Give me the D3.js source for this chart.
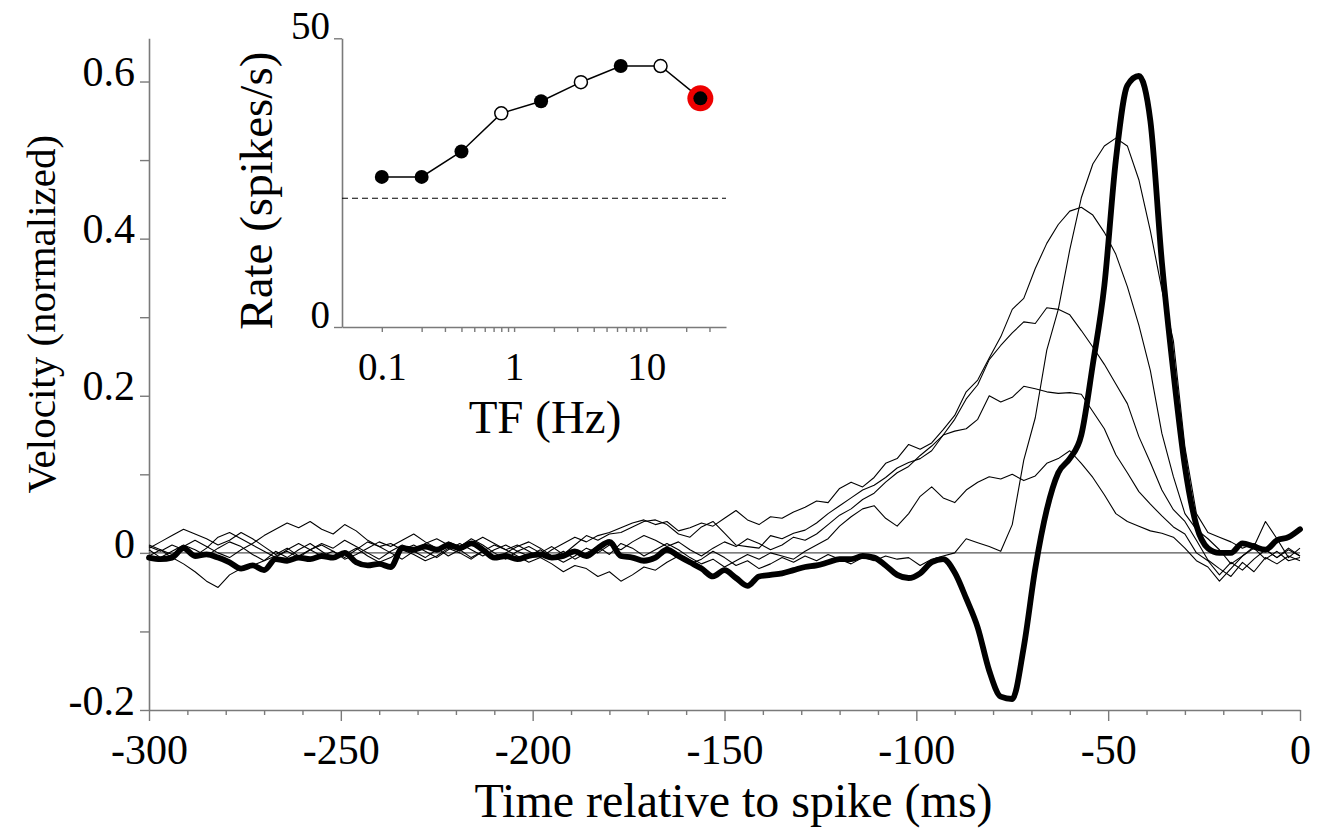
<!DOCTYPE html>
<html><head><meta charset="utf-8">
<script src="https://cdn.jsdelivr.net/npm/d3@7"></script>
<style>
body{margin:0;background:#fff;}
svg{display:block;font-family:"Liberation Serif","Times New Roman",serif;}
</style></head><body>
<svg id="chart" width="1328" height="835"></svg>
<script>
// ---------- main panel data ----------
const timeMs = [-300,-297,-294,-291,-288,-285,-282,-279,-276,-273,-270,-267,-264,-261,-258,-255,-252,-249,-246,-243,
-240,-237,-234,-231,-228,-225,-222,-219,-216,-213,-210,-207,-204,-201,-198,-195,-192,-189,-186,-183,
-180,-177,-174,-171,-168,-165,-162,-159,-156,-153,-150,-147,-144,-141,-138,-135,-132,-129,-126,-123,
-120,-117,-114,-111,-108,-105,-102,-99,-96,-93,-90,-87,-84,-81,-78,-75,-72,-69,-66,-63,
-60,-57,-54,-51,-48,-45,-42,-39,-36,-33,-30,-27,-24,-21,-18,-15,-12,-9,-6,-3,0];

const thickTrace = [-0.006,-0.008,-0.006,0.006,-0.004,-0.002,-0.006,-0.012,-0.020,-0.016,
-0.022,-0.008,-0.010,-0.006,-0.008,-0.004,-0.006,0.000,-0.012,-0.016,
-0.014,-0.018,0.006,0.004,0.008,0.004,0.010,0.006,0.012,0.004,
-0.006,-0.004,-0.008,-0.004,-0.002,-0.006,-0.004,0.002,-0.004,0.006,
0.014,-0.004,-0.006,-0.010,-0.006,0.004,-0.004,-0.012,-0.020,-0.030,
-0.022,-0.032,-0.042,-0.030,-0.028,-0.026,-0.022,-0.018,-0.016,-0.012,
-0.008,-0.008,-0.004,-0.006,-0.016,-0.028,-0.032,-0.026,-0.012,-0.008,
-0.025,-0.058,-0.095,-0.150,-0.183,-0.186,-0.120,-0.020,0.055,0.102,
0.120,0.150,0.240,0.340,0.500,0.595,0.607,0.550,0.370,0.230,
0.110,0.035,0.006,0.000,0.000,0.012,0.008,0.004,0.016,0.020,0.030];

const traceA = [0.004,-0.006,0.002,0.010,0.004,-0.004,0.006,0.014,0.008,-0.002,
-0.010,0.002,-0.006,0.004,0.012,0.002,-0.008,-0.002,0.006,-0.004,
-0.012,-0.006,0.004,-0.002,-0.010,-0.004,0.006,0.000,-0.008,0.002,
0.010,0.004,-0.004,-0.012,-0.006,-0.014,-0.024,-0.016,-0.020,-0.030,
-0.024,-0.036,-0.028,-0.018,-0.022,-0.012,-0.004,-0.014,-0.008,0.002,
-0.006,-0.016,-0.010,-0.020,-0.014,-0.006,-0.012,-0.004,-0.010,-0.002,
-0.008,-0.014,-0.006,-0.010,-0.004,-0.008,-0.006,-0.016,-0.008,-0.004,
0.000,0.018,0.013,0.008,0.002,0.036,0.118,0.172,0.258,0.310,
0.386,0.452,0.495,0.518,0.528,0.518,0.475,0.410,0.335,0.270,
0.135,0.050,0.026,0.020,0.014,0.006,0.012,0.004,-0.006,0.004,-0.004];

const traceB = [0.006,0.014,0.022,0.030,0.024,0.018,0.010,0.016,0.026,0.018,
0.008,-0.002,0.006,-0.004,0.004,0.012,0.006,0.016,0.008,0.000,
-0.008,0.002,0.010,0.004,0.012,0.018,0.010,0.002,0.012,0.020,
0.012,0.004,0.010,0.002,-0.006,0.004,0.012,0.020,0.014,0.022,
0.026,0.032,0.038,0.042,0.036,0.040,0.028,0.032,0.038,0.034,
0.044,0.054,0.042,0.036,0.046,0.044,0.052,0.058,0.066,0.064,
0.082,0.090,0.084,0.096,0.114,0.120,0.138,0.132,0.140,0.157,
0.175,0.205,0.220,0.248,0.275,0.310,0.324,0.362,0.394,0.418,
0.435,0.440,0.430,0.408,0.380,0.339,0.290,0.232,0.152,0.097,
0.050,0.030,0.018,0.004,-0.014,-0.004,0.006,-0.008,0.002,-0.010,-0.006];

const traceC = [-0.004,0.004,-0.002,0.008,0.016,0.008,0.000,-0.006,0.004,0.012,
0.022,0.030,0.038,0.032,0.040,0.030,0.024,0.036,0.028,0.016,
0.008,0.012,0.004,0.010,0.002,-0.006,0.004,0.012,0.004,-0.004,
0.004,0.010,0.002,0.008,0.000,0.008,-0.002,0.010,0.022,0.016,
0.024,0.026,0.033,0.040,0.042,0.036,0.024,0.020,0.033,0.040,
0.025,0.010,0.008,0.006,0.022,0.018,0.025,0.029,0.038,0.050,
0.060,0.070,0.080,0.086,0.096,0.108,0.115,0.120,0.130,0.150,
0.170,0.196,0.214,0.246,0.264,0.280,0.294,0.292,0.312,0.310,
0.303,0.283,0.262,0.240,0.215,0.190,0.148,0.115,0.080,0.055,
0.040,0.016,-0.009,-0.020,-0.030,-0.012,-0.024,-0.006,-0.014,-0.004,-0.010];

const traceD = [0.008,0.002,0.010,0.004,-0.004,0.006,0.020,0.026,0.018,0.010,
0.002,-0.006,0.004,0.012,0.004,-0.004,0.002,-0.008,-0.002,0.006,
0.014,0.008,0.016,0.024,0.014,0.006,-0.004,0.004,-0.006,0.002,
-0.008,0.000,0.008,0.014,0.006,-0.004,-0.012,-0.004,0.006,0.000,
0.010,0.004,0.014,0.022,0.016,0.008,0.014,0.004,-0.004,0.006,
0.014,0.008,0.018,0.012,0.004,0.010,0.020,0.016,0.024,0.036,
0.048,0.056,0.068,0.076,0.090,0.102,0.110,0.124,0.136,0.150,
0.155,0.158,0.170,0.200,0.192,0.198,0.212,0.209,0.205,0.203,
0.204,0.202,0.180,0.158,0.125,0.102,0.078,0.062,0.047,0.033,
0.024,0.000,-0.010,-0.028,-0.012,-0.022,-0.008,0.004,-0.006,0.006,-0.004];

const traceE = [0.010,0.004,-0.006,-0.014,-0.024,-0.036,-0.044,-0.028,-0.020,-0.016,
-0.010,-0.004,0.002,-0.006,0.004,0.010,0.002,-0.006,0.004,0.014,
0.008,0.000,-0.008,0.002,-0.006,0.004,0.014,0.008,0.018,0.010,
0.000,-0.008,0.002,-0.004,0.004,-0.006,0.002,-0.008,0.000,0.008,
-0.002,0.012,0.006,-0.004,0.004,0.012,0.004,-0.006,-0.014,-0.008,
-0.018,-0.010,-0.002,-0.008,0.000,-0.004,-0.008,0.002,0.010,0.018,
0.034,0.046,0.056,0.060,0.044,0.034,0.050,0.072,0.084,0.070,
0.064,0.080,0.090,0.097,0.094,0.100,0.092,0.098,0.114,0.120,
0.130,0.114,0.096,0.074,0.050,0.040,0.034,0.028,0.025,0.020,
0.006,-0.010,-0.018,-0.036,-0.020,-0.004,0.008,0.040,0.018,-0.006,0.006];

const thinTraces = [traceA, traceB, traceC, traceD, traceE];

const xMajorTicks = [-300,-250,-200,-150,-100,-50,0];
const xMinorTicks = [-290,-280,-270,-260,-240,-230,-220,-210,-190,-180,-170,-160,-140,-130,-120,-110,-90,-80,-70,-60,-40,-30,-20,-10];
const yMajorTicks = [-0.2,0,0.2,0.4,0.6];
const yMinorTicks = [-0.1,0.1,0.3,0.5];
const yAxisTopValue = 0.655;

// ---------- inset data ----------
const tfHz = [0.1,0.2,0.4,0.8,1.6,3.2,6.4,12.8,25.6];
const rateSpikes = [26.0,26.0,30.4,37.0,39.1,42.4,45.2,45.2,39.6];
const filledMarker = [true,true,true,false,true,false,true,false,true];
const highlightMarker = [false,false,false,false,false,false,false,false,true];
const spontaneousRate = 22.3;
const insetXMajor = [0.1,1,10];
const insetXTicks = [0.1,0.2,0.3,0.4,0.5,0.6,0.7,0.8,0.9,1,2,3,4,5,6,7,8,9,10,20,30];
const insetYTicks = [0,50];

// ---------- drawing ----------
const svg = d3.select('#chart');
const AX = '#7a7a7a';
const fontMainTick = 42, fontXTitle = 48, fontYTitle = 41, fontInsetTick = 39, fontInsetTitle = 47;

const x = d3.scaleLinear().domain([-300,0]).range([149,1300]);
const y = d3.scaleLinear().domain([-0.2,yAxisTopValue]).range([710, 710 - (yAxisTopValue+0.2)*785.6]);

function styleAxis(g){
  g.select('.domain').attr('stroke',AX).attr('stroke-width',1.6);
  g.selectAll('.tick line').attr('stroke',AX).attr('stroke-width',1.4);
  g.selectAll('.tick text').attr('fill','#000').attr('font-family','"Liberation Serif",serif');
}

// x axis
const gx = svg.append('g').attr('transform',`translate(0,${y(-0.2)})`)
  .call(d3.axisBottom(x).tickValues(xMajorTicks).tickSize(11).tickSizeOuter(0).tickFormat(d=>String(d)));
styleAxis(gx);
gx.selectAll('.tick text').attr('font-size',fontMainTick).attr('y',54).attr('dy',null);
const gxm = svg.append('g').attr('transform',`translate(0,${y(-0.2)})`)
  .call(d3.axisBottom(x).tickValues(xMinorTicks).tickSize(5).tickSizeOuter(0).tickFormat(''));
styleAxis(gxm);
gxm.select('.domain').remove();

// y axis
const gy = svg.append('g').attr('transform',`translate(${x(-300)},0)`)
  .call(d3.axisLeft(y).tickValues(yMajorTicks).tickSize(9).tickSizeOuter(0).tickFormat(d=>String(d)));
styleAxis(gy);
gy.selectAll('.tick text').attr('font-size',fontMainTick).attr('x',-14).attr('dy','0.1em');
const gym = svg.append('g').attr('transform',`translate(${x(-300)},0)`)
  .call(d3.axisLeft(y).tickValues(yMinorTicks).tickSize(9).tickSizeOuter(0).tickFormat(''));
styleAxis(gym);
gym.select('.domain').remove();

// titles
svg.append('text').attr('x',(x(-300)+x(0))/2 + 9).attr('y',817)
  .attr('text-anchor','middle').attr('font-size',fontXTitle).text('Time relative to spike (ms)');
svg.append('text').attr('transform',`translate(55,${(y(-0.2)+y(yAxisTopValue))/2 - 60}) rotate(-90)`)
  .attr('text-anchor','middle').attr('font-size',fontYTitle).text('Velocity (normalized)');

// zero line
svg.append('line').attr('x1',x(-300)).attr('x2',x(0)).attr('y1',y(0)).attr('y2',y(0))
  .attr('stroke','#555').attr('stroke-width',1.2);

// traces
const thinLine = d3.line().x((d,i)=>x(timeMs[i])).y(d=>y(d));
svg.append('g').selectAll('path').data(thinTraces).join('path')
  .attr('d',thinLine).attr('fill','none').attr('stroke','#000').attr('stroke-width',1.1)
  .attr('stroke-linejoin','round');
const thickLine = d3.line().x((d,i)=>x(timeMs[i])).y(d=>y(d)).curve(d3.curveMonotoneX);
svg.append('path').datum(thickTrace).attr('d',thickLine).attr('fill','none')
  .attr('stroke','#000').attr('stroke-width',5.8).attr('stroke-linejoin','round').attr('stroke-linecap','round');

// ---------- inset ----------
const xi = d3.scaleLog().domain([0.05,40]).range([342,726]);
const yi = d3.scaleLinear().domain([0,50]).range([327,38.3]);

const gxi = svg.append('g').attr('transform',`translate(0,${yi(0)})`)
  .call(d3.axisBottom(xi).tickValues(insetXTicks).tickSize(5).tickSizeOuter(0)
    .tickFormat(d=>insetXMajor.includes(d)?String(d):''));
styleAxis(gxi);
gxi.selectAll('.tick text').attr('font-size',fontInsetTick).attr('y',53).attr('dy',null);

const gyi = svg.append('g').attr('transform',`translate(${xi(0.05)},0)`)
  .call(d3.axisLeft(yi).tickValues(insetYTicks).tickSize(8).tickSizeOuter(0).tickFormat(d=>String(d)));
styleAxis(gyi);
gyi.selectAll('.tick text').attr('font-size',fontInsetTick).attr('x',-12).attr('dy','0em');

svg.append('text').attr('x',(xi(0.05)+xi(40))/2 + 11).attr('y',433)
  .attr('text-anchor','middle').attr('font-size',fontInsetTitle).text('TF (Hz)');
svg.append('text').attr('transform',`translate(272,${(yi(0)+yi(50))/2 + 8}) rotate(-90)`)
  .attr('text-anchor','middle').attr('font-size',fontInsetTitle).text('Rate (spikes/s)');

// spontaneous rate dashed line
svg.append('line').attr('x1',xi(0.05)).attr('x2',xi(40)).attr('y1',yi(spontaneousRate)).attr('y2',yi(spontaneousRate))
  .attr('stroke','#000').attr('stroke-width',1.1).attr('stroke-dasharray','6,4');

const tuning = tfHz.map((f,i)=>({f, r:rateSpikes[i], filled:filledMarker[i], hl:highlightMarker[i]}));
svg.append('path').datum(tuning)
  .attr('d',d3.line().x(d=>xi(d.f)).y(d=>yi(d.r)))
  .attr('fill','none').attr('stroke','#000').attr('stroke-width',1.5);
svg.append('g').selectAll('circle').data(tuning.filter(d=>d.hl)).join('circle')
  .attr('cx',d=>xi(d.f)).attr('cy',d=>yi(d.r)).attr('r',13).attr('fill','#ee0000');
svg.append('g').selectAll('circle').data(tuning).join('circle')
  .attr('cx',d=>xi(d.f)).attr('cy',d=>yi(d.r)).attr('r',d=>d.filled?7:6.5)
  .attr('fill',d=>d.filled?'#000':'#fff').attr('stroke','#000').attr('stroke-width',d=>d.filled?0:1.5);
</script>
</body></html>
